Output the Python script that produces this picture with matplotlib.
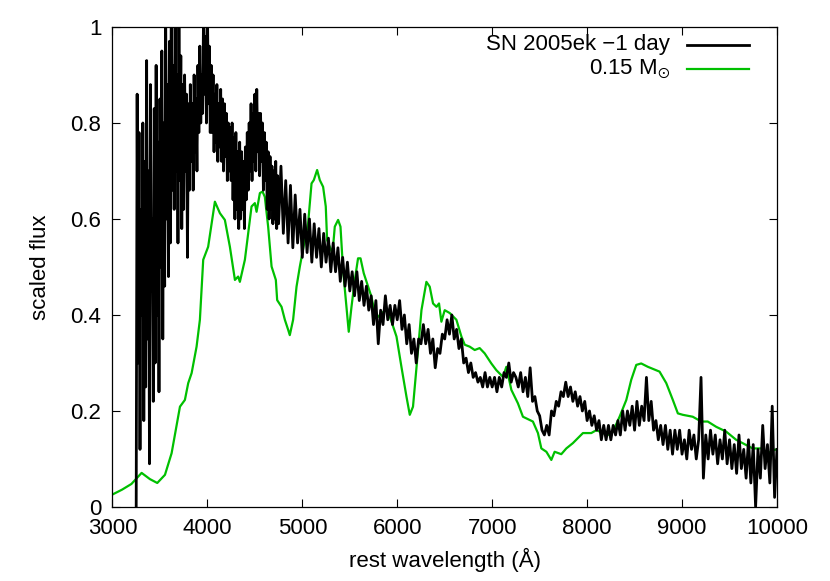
import numpy as np
import matplotlib
matplotlib.use("Agg")
import matplotlib.pyplot as plt
from matplotlib.ticker import FormatStrFormatter

plt.rcParams['font.family'] = ['Liberation Sans', 'DejaVu Sans']
plt.rcParams['mathtext.fontset'] = 'custom'
plt.rcParams['mathtext.rm'] = 'Liberation Sans'
plt.rcParams['mathtext.it'] = 'Liberation Sans'
plt.rcParams['mathtext.fallback'] = 'stixsans'

# observed spectrum, SN 2005ek at -1 day
# blue part sampled every 10 A from 3250 A (very noisy)
obs_blue_start = 3250
obs_blue_step = 10
obs_blue_flux = [
    0.00, 0.86, 0.30, 0.78, 0.12, 0.62, 0.40, 0.80, 0.18, 0.72,  # 3250
    0.25, 0.93, 0.35, 0.70, 0.09, 0.88, 0.45, 0.60, 0.22, 0.83,  # 3350
    0.30, 0.92, 0.40, 0.76, 0.24, 0.85, 0.50, 0.95, 0.35, 0.80,  # 3450
    0.46, 1.05, 0.60, 0.88, 0.48, 0.97, 0.55, 1.08, 0.66, 0.92,  # 3550
    0.62, 1.04, 0.70, 0.90, 0.55, 1.03, 0.68, 0.94, 0.58, 0.88,  # 3650
    0.62, 0.90, 0.70, 0.86, 0.52, 0.84, 0.66, 0.88, 0.72, 0.84,  # 3750
    0.66, 0.90, 0.74, 0.85, 0.70, 0.92, 0.78, 0.96, 0.80, 0.90,  # 3850
    0.82, 1.04, 0.86, 0.98, 0.80, 1.05, 0.84, 0.96, 0.78, 0.92,  # 3950
    0.78, 0.90, 0.74, 0.86, 0.76, 0.88, 0.72, 0.84, 0.75, 0.87,  # 4050
    0.72, 0.85, 0.70, 0.84, 0.73, 0.82, 0.68, 0.80, 0.70, 0.79,  # 4150
    0.68, 0.80, 0.64, 0.77, 0.60, 0.78, 0.62, 0.74, 0.58, 0.76,  # 4250
    0.60, 0.74, 0.62, 0.72, 0.58, 0.75, 0.64, 0.78, 0.66, 0.80,  # 4350
    0.70, 0.84, 0.68, 0.82, 0.72, 0.86, 0.70, 0.87, 0.74, 0.82,  # 4450
    0.69, 0.82, 0.72, 0.80, 0.66, 0.78, 0.68, 0.76, 0.62, 0.74,  # 4550
    0.60, 0.73, 0.62, 0.71, 0.59, 0.70, 0.60, 0.72, 0.58, 0.69,  # 4650
]
# red part sampled every 25 A from 4750 A
obs_red_start = 4750
obs_red_step = 25
obs_red_flux = [
    0.59, 0.71, 0.57, 0.68, 0.55, 0.67, 0.54, 0.65, 0.55, 0.62,  # 4750
    0.52, 0.61, 0.53, 0.60, 0.51, 0.59, 0.52, 0.58, 0.50, 0.57,  # 5000
    0.51, 0.56, 0.49, 0.55, 0.49, 0.54, 0.47, 0.52, 0.46, 0.51,  # 5250
    0.45, 0.49, 0.44, 0.49, 0.43, 0.47, 0.42, 0.46, 0.41, 0.44,  # 5500
    0.38, 0.43, 0.34, 0.41, 0.38, 0.44, 0.39, 0.42, 0.38, 0.42,  # 5750
    0.39, 0.43, 0.37, 0.40, 0.34, 0.38, 0.32, 0.35, 0.30, 0.35,  # 6000
    0.34, 0.38, 0.34, 0.37, 0.32, 0.35, 0.29, 0.33, 0.32, 0.36,  # 6250
    0.35, 0.39, 0.36, 0.40, 0.35, 0.37, 0.33, 0.35, 0.30, 0.31,  # 6500
    0.28, 0.30, 0.27, 0.28, 0.26, 0.27, 0.25, 0.28, 0.25, 0.27,  # 6750
    0.25, 0.27, 0.24, 0.27, 0.25, 0.28, 0.27, 0.30, 0.26, 0.28,  # 7000
    0.27, 0.25, 0.28, 0.24, 0.27, 0.23, 0.29, 0.22, 0.23, 0.20,  # 7250
    0.19, 0.16, 0.15, 0.17, 0.15, 0.20, 0.19, 0.22, 0.21, 0.24,  # 7500
    0.23, 0.26, 0.23, 0.25, 0.22, 0.24, 0.21, 0.23, 0.20, 0.22,  # 7750
    0.18, 0.20, 0.17, 0.19, 0.16, 0.18, 0.14, 0.17, 0.14, 0.17,  # 8000
    0.14, 0.17, 0.15, 0.18, 0.15, 0.20, 0.16, 0.20, 0.17, 0.21,  # 8250
    0.16, 0.22, 0.17, 0.21, 0.18, 0.27, 0.18, 0.22, 0.16, 0.18,  # 8500
    0.14, 0.17, 0.13, 0.17, 0.12, 0.16, 0.11, 0.16, 0.12, 0.16,  # 8750
    0.11, 0.14, 0.10, 0.16, 0.12, 0.15, 0.10, 0.14, 0.27, 0.06,  # 9000
    0.15, 0.10, 0.16, 0.11, 0.15, 0.09, 0.14, 0.10, 0.16, 0.09,  # 9250
    0.14, 0.08, 0.13, 0.07, 0.15, 0.08, 0.12, 0.06, 0.14, 0.05,  # 9500
    0.13, 0.00, 0.12, 0.06, 0.17, 0.08, 0.13, 0.05, 0.21, 0.02,  # 9750
    0.12,                                                        # 10000
]
obs_wave = np.concatenate([
    obs_blue_start + obs_blue_step * np.arange(len(obs_blue_flux)),
    obs_red_start + obs_red_step * np.arange(len(obs_red_flux))])
obs_flux = obs_blue_flux + obs_red_flux

# model spectrum, 0.15 Msun
mod_wave = [3000, 3100, 3200, 3307, 3395, 3472, 3553, 3623, 3711, 3763,
            3798, 3834, 3886, 3921, 3956, 4008, 4079, 4132, 4184, 4237,
            4290, 4324, 4342, 4395, 4447, 4465, 4500, 4518, 4553, 4581,
            4605, 4640, 4676, 4721, 4735, 4781, 4816, 4851, 4868, 4903,
            4939, 4974, 5026, 5061, 5097, 5121, 5156, 5184, 5219, 5247,
            5261, 5289, 5318, 5342, 5377, 5402, 5429, 5465, 5489, 5518,
            5553, 5587, 5613, 5647, 5693, 5728, 5763, 5798, 5834, 5886,
            5928, 5992, 6044, 6097, 6132, 6166, 6219, 6255, 6307, 6342,
            6377, 6413, 6440, 6465, 6500, 6553, 6623, 6676, 6711, 6763,
            6816, 6868, 6921, 6991, 7044, 7114, 7149, 7202, 7271, 7324,
            7429, 7482, 7518, 7571, 7623, 7658, 7728, 7781, 7850, 7956,
            8044, 8097, 8219, 8271, 8342, 8413, 8465, 8518, 8570, 8640,
            8763, 8834, 8903, 8956, 9008, 9113, 9202, 9271, 9360, 9465,
            9570, 9676, 9745, 9834, 9903, 9974, 10000]
mod_flux = [0.026, 0.036, 0.048, 0.071, 0.058, 0.050, 0.067, 0.112, 0.209, 0.223,
            0.258, 0.279, 0.334, 0.390, 0.515, 0.542, 0.636, 0.612, 0.598, 0.542,
            0.473, 0.480, 0.469, 0.515, 0.598, 0.626, 0.633, 0.615, 0.654, 0.657,
            0.646, 0.584, 0.501, 0.473, 0.431, 0.417, 0.390, 0.369, 0.358, 0.390,
            0.459, 0.501, 0.556, 0.591, 0.674, 0.681, 0.702, 0.681, 0.667, 0.626,
            0.556, 0.542, 0.529, 0.584, 0.598, 0.584, 0.494, 0.417, 0.365, 0.417,
            0.473, 0.518, 0.518, 0.487, 0.459, 0.438, 0.404, 0.396, 0.404, 0.410,
            0.393, 0.355, 0.292, 0.230, 0.192, 0.209, 0.327, 0.410, 0.469, 0.459,
            0.424, 0.417, 0.424, 0.386, 0.410, 0.404, 0.390, 0.355, 0.338, 0.334,
            0.327, 0.331, 0.320, 0.299, 0.285, 0.271, 0.292, 0.244, 0.216, 0.188,
            0.178, 0.154, 0.122, 0.115, 0.098, 0.115, 0.110, 0.122, 0.133, 0.154,
            0.154, 0.160, 0.150, 0.157, 0.188, 0.223, 0.265, 0.296, 0.299, 0.292,
            0.282, 0.258, 0.223, 0.195, 0.192, 0.188, 0.178, 0.178, 0.167, 0.157,
            0.140, 0.129, 0.122, 0.122, 0.112, 0.119, 0.120]

labels = ["SN 2005ek \u22121 day", r"0.15 $\mathrm{M}_{\odot}$"]
colors = ["black", "#00c000"]

fig = plt.figure(figsize=(8.3, 5.81), dpi=100)
ax = fig.add_axes([0.1355, 0.1274, 0.8006, 0.8262])

ax.plot(obs_wave, obs_flux, color=colors[0], lw=2.0, zorder=3)
ax.plot(mod_wave, mod_flux, color=colors[1], lw=1.6, zorder=2)

ax.set_xlim(3000, 10000)
ax.set_ylim(0, 1)
ax.set_xticks(np.arange(3000, 10001, 1000))
ax.set_yticks([0, 0.2, 0.4, 0.6, 0.8, 1.0])
ax.yaxis.set_major_formatter(FormatStrFormatter('%g'))
ax.tick_params(direction='in', top=True, right=True, length=6, width=0.8,
               labelsize=16, pad=8)
for s in ax.spines.values():
    s.set_linewidth(0.9)

ax.set_xlabel("rest wavelength (\u00c5)", fontsize=16, labelpad=6)
ax.set_ylabel("scaled flux", fontsize=16, labelpad=14)

# gnuplot style key: right aligned text, sample line on the right
for i, (lab, c) in enumerate(zip(labels, colors)):
    yk = 0.9625 - 0.05 * i
    ax.text(0.839, yk, lab, transform=ax.transAxes, ha='right', va='center',
            fontsize=16)
    ax.plot([0.864, 0.958], [yk, yk], transform=ax.transAxes, color=c,
            lw=2.0 if i == 0 else 1.6, clip_on=False)

fig.savefig("out.png", dpi=100)
